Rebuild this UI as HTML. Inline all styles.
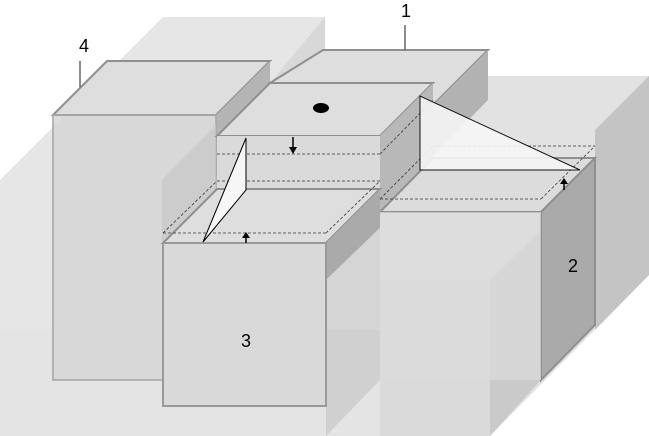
<!DOCTYPE html>
<html><head><style>html,body{margin:0;padding:0;background:#fff}svg{display:block}</style></head>
<body>
<svg width="649" height="436" viewBox="0 0 649 436" xmlns="http://www.w3.org/2000/svg" font-family="Liberation Sans, sans-serif">
<!-- background boxes -->
<polygon points="0,180 163,17 325,17 325,100 162,436 0,436" fill="#e6e6e6"/>
<polygon points="325,17 325,100 270,160 270,83" fill="#cfcfcf" opacity="0.6"/>
<rect x="0" y="330" width="490" height="106" fill="#e4e4e4"/>
<polygon points="487,76 649,76 649,275 490,436 380,436 380,130 433,76" fill="#e2e2e2"/>
<polygon points="595,130 649,76 649,275 595,330" fill="#c4c4c4"/>
<polygon points="490,280 541,230 541,380 490,436" fill="#c0c0c0" opacity="0.7"/>
<rect x="380" y="280" width="110" height="156" fill="#d6d6d6" opacity="0.6"/>
<!-- block 4 -->
<polygon points="53,115 107,61 270,61 216,115" fill="#dedede" stroke="#8f8f8f" stroke-width="2"/>
<polygon points="216,115 270,61 270,120 216,175" fill="#b4b4b4"/>
<rect x="53" y="115" width="163" height="265" fill="#d6d6d6" stroke="#aaa" stroke-width="2" opacity="0.85"/>
<polygon points="162,180 216,125 216,380 162,380" fill="#c8c8c8" opacity="0.7"/>
<!-- block 1 -->
<polygon points="270,83 323,50 488,50 433,105 380,105" fill="#dedede" stroke="#8f8f8f" stroke-width="2"/>
<polygon points="433,105 488,50 488,100 380,210 380,158" fill="#b2b2b2"/>
<!-- central cube -->
<polygon points="217,136 270,83 433,83 380,136" fill="#dedede" stroke="#8f8f8f" stroke-width="2"/>
<ellipse cx="321" cy="108" rx="8" ry="5" fill="#000"/>
<rect x="217" y="136" width="163" height="54" fill="#dadada"/>
<polygon points="380,136 433,83 433,160 380,212" fill="#b8b8b8"/>
<!-- block 2 -->
<polygon points="380,212 433,158 595,158 541,212" fill="#dcdcdc" stroke="#8f8f8f" stroke-width="2"/>
<polygon points="541,212 595,158 595,325 541,380" fill="#aaaaaa" stroke="#8f8f8f" stroke-width="2"/>
<rect x="380" y="212" width="161" height="168" fill="#dcdcdc" opacity="0.7"/>
<!-- block 3 -->
<polygon points="163,243 217,189 380,189 326,243" fill="#dedede" stroke="#8f8f8f" stroke-width="2"/>
<polygon points="326,243 380,189 380,228 326,280" fill="#aaaaaa"/>
<polygon points="326,280 380,228 380,380 326,436" fill="#cbcbcb" opacity="0.8"/>
<rect x="163" y="243" width="163" height="163" fill="#d9d9d9" stroke="#999" stroke-width="2"/>
<!-- dashed lines -->
<g stroke="#333" stroke-width="0.8" stroke-dasharray="3,2" fill="none">
<line x1="217" y1="154" x2="380" y2="154"/>
<line x1="217" y1="181" x2="380" y2="181"/>
<line x1="163" y1="233" x2="326" y2="233"/>
<line x1="163" y1="233" x2="217" y2="181"/>
<line x1="326" y1="233" x2="380" y2="181"/>
<line x1="380" y1="199" x2="541" y2="199"/>
<line x1="433" y1="146" x2="595" y2="146"/>
<line x1="541" y1="199" x2="595" y2="146"/>
<line x1="380" y1="199" x2="433" y2="146"/>
<line x1="380" y1="154" x2="433" y2="100"/>
</g>
<!-- triangles -->
<polygon points="246,138 246,190 203,242" fill="#f6f6f6" stroke="#000" stroke-width="1"/>
<polygon points="420,96 420,170 580,170" fill="#f6f6f6" stroke="#000" stroke-width="1" opacity="0.9"/>
<!-- arrows -->
<g stroke="#000" stroke-width="1.5" fill="#000">
<line x1="293" y1="137" x2="293" y2="150"/><polygon points="289,147 297,147 293,154" stroke="none"/>
<line x1="246" y1="243" x2="246" y2="237"/><polygon points="242,238 250,238 246,232" stroke="none"/>
<line x1="564" y1="190" x2="564" y2="183"/><polygon points="560,184 568,184 564,178" stroke="none"/>
</g>
<!-- labels -->
<g stroke="#666" stroke-width="1.5"><line x1="405" y1="25" x2="405" y2="50"/><line x1="80" y1="61" x2="80" y2="87"/></g>
<g font-size="18" fill="#000" text-anchor="middle">
<text x="406" y="17">1</text>
<text x="84" y="52">4</text>
<text x="246" y="347">3</text>
<text x="573" y="272">2</text>
</g>
</svg>
</body></html>
